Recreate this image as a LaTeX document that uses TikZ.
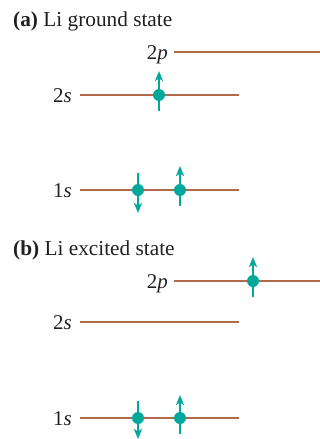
\documentclass[tikz,border=0pt]{standalone}
\usepackage{fontspec}
\setmainfont{Liberation Serif}
\usetikzlibrary{arrows.meta,calc}
\definecolor{lvl}{HTML}{B06A4E}
\definecolor{teal2}{HTML}{00A89C}
\definecolor{txt}{HTML}{231F20}
\tikzset{
  level/.style={draw=lvl,line width=2pt},
  lbl/.style={anchor=base east,inner sep=0pt,text=txt,font=\fontsize{21}{24}\selectfont},
  ttl/.style={anchor=base west,inner sep=0pt,text=txt,font=\fontsize{21.3}{24}\selectfont},
  elec/.style={circle,fill=teal2,inner sep=0pt,minimum size=12pt},
  spin/.style={draw=teal2,line width=1.8pt,-{Stealth[length=10pt,width=8pt,inset=2.5pt]}}
}
\begin{document}
\begin{tikzpicture}[x=1pt,y=-1pt]
\useasboundingbox (0,0) rectangle (320,439);
% (a)
\node[ttl] (ta) at (13,26) {\textbf{(a)} Li ground state};
\node[lbl] (a2pl) at (168,59) {2\textit{p}};
\coordinate (a2pA) at (174,52); \coordinate (a2pB) at (320,52);
\draw[level] (a2pA) -- (a2pB);
\node[lbl] (a2sl) at (72,102) {2\textit{s}};
\coordinate (a2sA) at (80,95); \coordinate (a2sB) at (239,95);
\draw[level] (a2sA) -- (a2sB);
\node[lbl] (a1sl) at (72,197) {1\textit{s}};
\coordinate (a1sA) at (80,190); \coordinate (a1sB) at (239,190);
\draw[level] (a1sA) -- (a1sB);
\node[elec] (ea1) at (159,95) {};
\draw[spin] ($(ea1)+(0,16)$) -- ($(ea1)+(0,-24)$);
\node[elec] (ea2) at (138,190) {};
\draw[spin] ($(ea2)+(0,-17)$) -- ($(ea2)+(0,23)$);
\node[elec] (ea3) at (180,190) {};
\draw[spin] ($(ea3)+(0,16)$) -- ($(ea3)+(0,-24)$);
% (b)
\node[ttl] (tb) at (13,255) {\textbf{(b)} Li excited state};
\node[lbl] (b2pl) at (168,288) {2\textit{p}};
\coordinate (b2pA) at (174,281); \coordinate (b2pB) at (320,281);
\draw[level] (b2pA) -- (b2pB);
\node[lbl] (b2sl) at (72,329) {2\textit{s}};
\coordinate (b2sA) at (80,322); \coordinate (b2sB) at (239,322);
\draw[level] (b2sA) -- (b2sB);
\node[lbl] (b1sl) at (72,425) {1\textit{s}};
\coordinate (b1sA) at (80,418); \coordinate (b1sB) at (239,418);
\draw[level] (b1sA) -- (b1sB);
\node[elec] (eb1) at (253,281) {};
\draw[spin] ($(eb1)+(0,16)$) -- ($(eb1)+(0,-24)$);
\node[elec] (eb2) at (138,418) {};
\draw[spin] ($(eb2)+(0,-17)$) -- ($(eb2)+(0,21)$);
\node[elec] (eb3) at (180,418) {};
\draw[spin] ($(eb3)+(0,16)$) -- ($(eb3)+(0,-23)$);
\end{tikzpicture}
\end{document}
